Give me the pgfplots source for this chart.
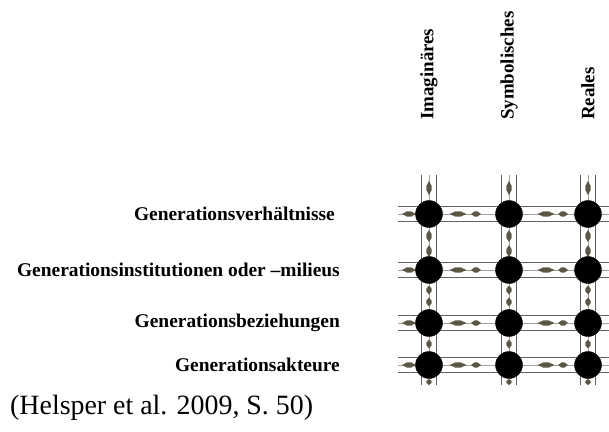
\documentclass[border=0pt]{standalone}
\usepackage{fontspec}
\setmainfont{Liberation Serif}
\usepackage{pgfplots}
\pgfplotsset{compat=1.18}
\definecolor{road}{RGB}{100,96,102}
\definecolor{midline}{RGB}{165,160,150}
\definecolor{spin}{RGB}{92,87,68}

\pgfdeclareplotmark{hsp}{%
 \pgfpathmoveto{\pgfqpoint{-\pgfplotmarksize}{0pt}}%
 \pgfpathlineto{\pgfqpoint{-0.3\pgfplotmarksize}{2.6bp}}%
 \pgfpathlineto{\pgfqpoint{0.3\pgfplotmarksize}{2.6bp}}%
 \pgfpathlineto{\pgfqpoint{\pgfplotmarksize}{0pt}}%
 \pgfpathlineto{\pgfqpoint{0.3\pgfplotmarksize}{-2.6bp}}%
 \pgfpathlineto{\pgfqpoint{-0.3\pgfplotmarksize}{-2.6bp}}%
 \pgfpathclose\pgfusepathqfill}
\pgfdeclareplotmark{vsp}{%
 \pgfpathmoveto{\pgfqpoint{0pt}{-\pgfplotmarksize}}%
 \pgfpathlineto{\pgfqpoint{2.6bp}{-0.3\pgfplotmarksize}}%
 \pgfpathlineto{\pgfqpoint{2.6bp}{0.3\pgfplotmarksize}}%
 \pgfpathlineto{\pgfqpoint{0pt}{\pgfplotmarksize}}%
 \pgfpathlineto{\pgfqpoint{-2.6bp}{0.3\pgfplotmarksize}}%
 \pgfpathlineto{\pgfqpoint{-2.6bp}{-0.3\pgfplotmarksize}}%
 \pgfpathclose\pgfusepathqfill}

\begin{document}
\begin{tikzpicture}
\begin{axis}[name=main, scale only axis, width=609bp, height=432bp,
  xmin=0, xmax=609, ymin=0, ymax=432, y dir=reverse,
  hide axis, clip=false, unbounded coords=jump]
% centre lines of the roads
\addplot[midline, line width=0.9bp, no marks] table {
x y
398 214
609 214
nan nan
398 270
609 270
nan nan
398 323
609 323
nan nan
398 365
609 365
nan nan
429 175
429 385
nan nan
509 175
509 385
nan nan
588 175
588 385
};
% outer lines of the roads
\addplot[road, line width=1.7bp, no marks] table {
x y
398 206.5
609 206.5
nan nan
398 221.5
609 221.5
nan nan
398 262.5
609 262.5
nan nan
398 277.5
609 277.5
nan nan
398 315.5
609 315.5
nan nan
398 330.5
609 330.5
nan nan
398 357.5
609 357.5
nan nan
398 372.5
609 372.5
nan nan
421.5 175
421.5 385
nan nan
436.5 175
436.5 385
nan nan
501.5 175
501.5 385
nan nan
516.5 175
516.5 385
nan nan
580.5 175
580.5 385
nan nan
595.5 175
595.5 385
};
% horizontal spindles
\addplot[only marks, mark=hsp, mark size=8.5bp, spin] coordinates {
(458,214) (546,214) (458,270) (546,270) (458,323) (546,323) (458,365) (546,365)};
\addplot[only marks, mark=hsp, mark size=5bp, spin] coordinates {
(476,214) (563,214) (476,270) (563,270) (476,323) (563,323) (476,365) (563,365)};
\addplot[only marks, mark=hsp, mark size=7bp, spin] coordinates {
(409,214) (409,270) (409,323) (409,365)};
% vertical spindles
\addplot[only marks, mark=vsp, mark size=7bp, spin] coordinates {
(429,188) (509,188) (588,188)};
\addplot[only marks, mark=vsp, mark size=6bp, spin] coordinates {
(429,236) (509,236) (588,236) (429,251) (509,251) (588,251)};
\addplot[only marks, mark=vsp, mark size=4.5bp, spin] coordinates {
(429,290) (509,290) (588,290) (429,302) (509,302) (588,302) (429,344) (509,344) (588,344)};
\addplot[only marks, mark=vsp, mark size=3bp, spin] coordinates {
(429,382) (509,382) (588,382)};
% nodes (circles)
\addplot[only marks, mark=*, mark size=13.5bp, mark options={fill=black, draw=black}] coordinates {
(429,214) (509,214) (588,214)
(429,270) (509,270) (588,270)
(429,323) (509,323) (588,323)
(429,365) (509,365) (588,365)};
% labels
\begin{scope}[every node/.style={inner sep=0pt, anchor=east, font=\bfseries\fontsize{19.5}{23}\selectfont}]
\node at (axis cs:335,214) {Generationsverhältnisse};
\node at (axis cs:340,270) {Generationsinstitutionen oder –milieus};
\node at (axis cs:340,323) {Generationsbeziehungen};
\node at (axis cs:340,365) {Generationsakteure};
\end{scope}
\begin{scope}[every node/.style={inner sep=0pt, rotate=90, anchor=west, font=\bfseries\fontsize{19}{22}\selectfont}]
\node at (axis cs:429,120) {Imaginäres};
\node at (axis cs:509,120) {Symbolisches};
\node at (axis cs:588,120) {Reales};
\end{scope}
\node[inner sep=0pt, anchor=base west, font=\fontsize{28}{32}\selectfont] at (axis cs:10,414) {(Helsper et al. 2009, S.~50)};
\end{axis}
\pgfresetboundingbox
\path[use as bounding box] (main.south west) rectangle (main.north east);
\end{tikzpicture}
\end{document}
